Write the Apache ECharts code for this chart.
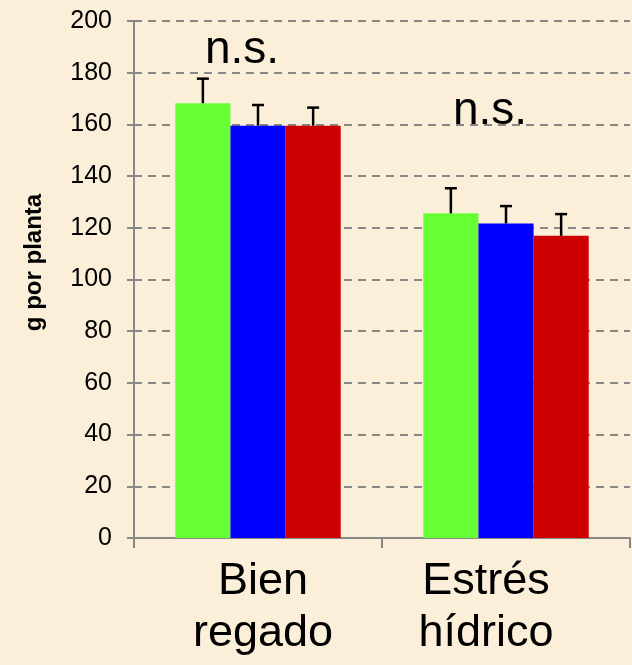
<!DOCTYPE html>
<html><head><meta charset="utf-8">
<script src="https://cdn.jsdelivr.net/npm/echarts@6/dist/echarts.min.js"></script>
<style>html,body{margin:0;padding:0;background:#FBEFD9;}#c{width:632px;height:665px;}</style>
</head><body><div id="c"></div>
<script>
const categories = ['Bien\nregado', 'Estrés\nhídrico'];
const greenVals = [168.2, 125.6];
const greenErr = [9.5, 9.7];
const blueVals = [159.5, 121.7];
const blueErr = [8.0, 6.7];
const redVals = [159.5, 116.9];
const redErr = [7.0, 8.4];
const yTicks = {min: 0, max: 200, interval: 20};
const annotationCats = [0, 1];
const annotationVals = [183, 159.4];
const annotationTexts = ['n.s.', 'n.s.'];

const FONT = 'Liberation Sans, Arial, sans-serif';
const labelPads = [[0, 0, 0, 10], [0, 40, 0, 0]];
const seriesDefs = [
  {name: 'A', color: '#66FF33', vals: greenVals, err: greenErr},
  {name: 'B', color: '#0000FF', vals: blueVals, err: blueErr},
  {name: 'C', color: '#CC0000', vals: redVals, err: redErr}
];
const chart = echarts.init(document.getElementById('c'));
const series = [];
seriesDefs.forEach((s) => {
  series.push({type: 'bar', name: s.name, data: s.vals, barGap: '0%', barCategoryGap: '33.3%',
    itemStyle: {color: s.color}, z: 2});
});
seriesDefs.forEach((s, si) => {
  series.push({type: 'custom', name: s.name + 'err', z: 3,
    data: s.vals.map((v, i) => [i, v, v + s.err[i]]),
    renderItem: function (params, api) {
      const ci = api.value(0);
      const base = api.coord([ci, api.value(1)]);
      const top = api.coord([ci, api.value(2)]);
      const bw = api.size([1, 0])[0];
      const groupW = bw * (1 - 0.333);
      const barW = groupW / 3;
      const x = base[0] - groupW / 2 + barW * (si + 0.5);
      const capHalf = 6;
      return {type: 'group', children: [
        {type: 'line', shape: {x1: x, y1: base[1], x2: x, y2: top[1]}, style: {stroke: '#000', lineWidth: 2.5}},
        {type: 'line', shape: {x1: x - capHalf, y1: top[1], x2: x + capHalf, y2: top[1]}, style: {stroke: '#000', lineWidth: 2.5}}
      ]};
    }
  });
});
series.push({type: 'custom', z: 5,
  data: annotationCats.map((c, i) => [c, annotationVals[i], i]),
  renderItem: function (params, api) {
    const p = api.coord([api.value(0), api.value(1)]);
    return {type: 'text', x: p[0] - 16, y: p[1] - 38,
      style: {text: annotationTexts[api.value(2)], fill: '#000', font: '46px ' + FONT,
        align: 'center', verticalAlign: 'top'}};
  }
});
chart.setOption({
  backgroundColor: '#FBEFD9',
  animation: false,
  grid: {left: 134, right: 2, top: 21, bottom: 127},
  xAxis: {type: 'category',
    data: categories.map((c, i) => ({value: c, textStyle: {padding: labelPads[i]}})),
    axisLine: {lineStyle: {color: '#888', width: 2}},
    axisTick: {show: true, length: 10, lineStyle: {color: '#888', width: 2}},
    axisLabel: {color: '#000', fontSize: 45, lineHeight: 52, margin: 18, fontFamily: FONT}
  },
  yAxis: {type: 'value', min: yTicks.min, max: yTicks.max, interval: yTicks.interval,
    name: 'g por planta', nameLocation: 'middle', nameGap: 88, nameRotate: 90,
    nameTextStyle: {color: '#000', fontSize: 24, fontWeight: 'bold', fontFamily: FONT, padding: [0, 0, 0, 34]},
    axisLine: {show: true, lineStyle: {color: '#888', width: 2}},
    axisTick: {show: true, length: 7, lineStyle: {color: '#888', width: 2}},
    axisLabel: {color: '#000', fontSize: 25, margin: 22, fontFamily: FONT},
    splitLine: {show: true, lineStyle: {color: '#888', width: 2, type: [8, 6]}}
  },
  series: series
});
</script></body></html>
